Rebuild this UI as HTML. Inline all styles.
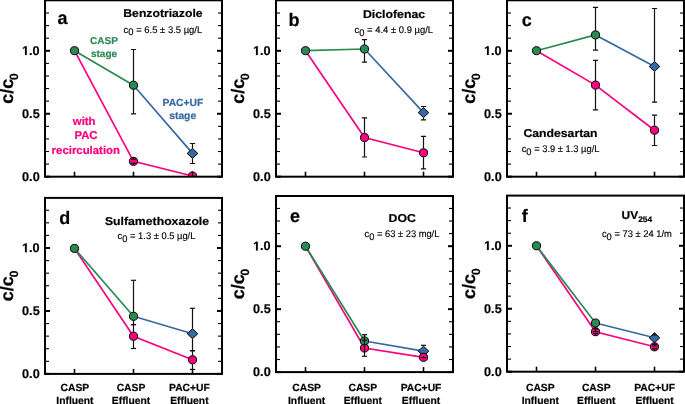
<!DOCTYPE html>
<html><head><meta charset="utf-8"><style>
html,body{margin:0;padding:0;background:#fff;overflow:hidden;}
svg{display:block;will-change:transform;}
text{font-family:"Liberation Sans",sans-serif;text-rendering:geometricPrecision;}
</style></head><body>
<svg width="685" height="404" viewBox="0 0 685 404">
<clipPath id="clipa"><rect x="45" y="0.3" width="177" height="176.4"/></clipPath>
<g stroke="#000"><line x1="45" y1="176.7" x2="50" y2="176.7" stroke-width="2"/><line x1="222" y1="176.7" x2="217" y2="176.7" stroke-width="2"/><line x1="45" y1="164.11" x2="49" y2="164.11" stroke-width="1.1"/><line x1="222" y1="164.11" x2="218" y2="164.11" stroke-width="1.1"/><line x1="45" y1="151.52" x2="49" y2="151.52" stroke-width="1.1"/><line x1="222" y1="151.52" x2="218" y2="151.52" stroke-width="1.1"/><line x1="45" y1="138.93" x2="49" y2="138.93" stroke-width="1.1"/><line x1="222" y1="138.93" x2="218" y2="138.93" stroke-width="1.1"/><line x1="45" y1="126.34" x2="49" y2="126.34" stroke-width="1.1"/><line x1="222" y1="126.34" x2="218" y2="126.34" stroke-width="1.1"/><line x1="45" y1="113.75" x2="50" y2="113.75" stroke-width="2"/><line x1="222" y1="113.75" x2="217" y2="113.75" stroke-width="2"/><line x1="45" y1="101.16" x2="49" y2="101.16" stroke-width="1.1"/><line x1="222" y1="101.16" x2="218" y2="101.16" stroke-width="1.1"/><line x1="45" y1="88.57" x2="49" y2="88.57" stroke-width="1.1"/><line x1="222" y1="88.57" x2="218" y2="88.57" stroke-width="1.1"/><line x1="45" y1="75.98" x2="49" y2="75.98" stroke-width="1.1"/><line x1="222" y1="75.98" x2="218" y2="75.98" stroke-width="1.1"/><line x1="45" y1="63.39" x2="49" y2="63.39" stroke-width="1.1"/><line x1="222" y1="63.39" x2="218" y2="63.39" stroke-width="1.1"/><line x1="45" y1="50.8" x2="50" y2="50.8" stroke-width="2"/><line x1="222" y1="50.8" x2="217" y2="50.8" stroke-width="2"/><line x1="45" y1="38.21" x2="49" y2="38.21" stroke-width="1.1"/><line x1="222" y1="38.21" x2="218" y2="38.21" stroke-width="1.1"/><line x1="45" y1="25.62" x2="49" y2="25.62" stroke-width="1.1"/><line x1="222" y1="25.62" x2="218" y2="25.62" stroke-width="1.1"/><line x1="45" y1="13.03" x2="49" y2="13.03" stroke-width="1.1"/><line x1="222" y1="13.03" x2="218" y2="13.03" stroke-width="1.1"/><line x1="74.5" y1="176.7" x2="74.5" y2="171.7" stroke-width="1.6"/><line x1="133.5" y1="176.7" x2="133.5" y2="171.7" stroke-width="1.6"/><line x1="192.5" y1="176.7" x2="192.5" y2="171.7" stroke-width="1.6"/></g>
<g font-size="12.7" font-weight="bold" stroke="#000" stroke-width="0.2"><text x="39.7" y="55.05" text-anchor="end">.0</text><path transform="translate(22.05,55.05) scale(0.006201,-0.006201)" d="M478 0V1170L140 959V1180L493 1409H759V0Z" fill="#000" stroke-width="32.25"/><text x="39.7" y="118" text-anchor="end">0.5</text><text x="39.7" y="180.95" text-anchor="end">0.0</text></g>
<text transform="translate(12.9,103.8) rotate(-90)" font-size="18" font-weight="bold" stroke="#000" stroke-width="0.2">c/c<tspan font-size="12" dx="-1.2" dy="4.8">0</tspan></text>
<g clip-path="url(#clipa)" fill="none" stroke-width="1.7"><polyline points="74.5,50.7 133.5,161.3 192.5,176" stroke="#fc0080"/><polyline points="74.5,50.7 133.5,85.2" stroke="#2b8a52"/><polyline points="133.5,85.2 192.5,153.4" stroke="#3569a2"/></g>
<g clip-path="url(#clipa)" stroke="#000" stroke-width="1"><path d="M192.5,148.4 L197.8,153.4 L192.5,158.4 L187.2,153.4Z" fill="#3569a2"/><circle cx="133.5" cy="161.3" r="4.05" fill="#fc0080"/><circle cx="192.5" cy="176" r="4.05" fill="#fc0080"/><circle cx="74.5" cy="50.7" r="4.05" fill="#2b8a52"/><circle cx="133.5" cy="85.2" r="4.05" fill="#2b8a52"/></g>
<g clip-path="url(#clipa)" stroke="#111" stroke-width="1.2"><line x1="133.5" y1="157.25" x2="133.5" y2="159.2"/><line x1="130.9" y1="159.2" x2="136.1" y2="159.2"/><line x1="133.5" y1="165.35" x2="133.5" y2="163.4"/><line x1="130.9" y1="163.4" x2="136.1" y2="163.4"/><line x1="133.5" y1="81.15" x2="133.5" y2="49.5"/><line x1="130.9" y1="49.5" x2="136.1" y2="49.5"/><line x1="133.5" y1="89.25" x2="133.5" y2="113.8"/><line x1="130.9" y1="113.8" x2="136.1" y2="113.8"/><line x1="192.5" y1="148.4" x2="192.5" y2="143.5"/><line x1="189.9" y1="143.5" x2="195.1" y2="143.5"/><line x1="192.5" y1="158.4" x2="192.5" y2="163.5"/><line x1="189.9" y1="163.5" x2="195.1" y2="163.5"/><line x1="192.5" y1="171.6" x2="192.5" y2="176.5"/></g>
<rect x="45" y="0.3" width="177" height="176.4" fill="none" stroke="#000" stroke-width="2"/>
<clipPath id="clipb"><rect x="276" y="0.3" width="177" height="176.4"/></clipPath>
<g stroke="#000"><line x1="276" y1="176.7" x2="281" y2="176.7" stroke-width="2"/><line x1="453" y1="176.7" x2="448" y2="176.7" stroke-width="2"/><line x1="276" y1="164.11" x2="280" y2="164.11" stroke-width="1.1"/><line x1="453" y1="164.11" x2="449" y2="164.11" stroke-width="1.1"/><line x1="276" y1="151.52" x2="280" y2="151.52" stroke-width="1.1"/><line x1="453" y1="151.52" x2="449" y2="151.52" stroke-width="1.1"/><line x1="276" y1="138.93" x2="280" y2="138.93" stroke-width="1.1"/><line x1="453" y1="138.93" x2="449" y2="138.93" stroke-width="1.1"/><line x1="276" y1="126.34" x2="280" y2="126.34" stroke-width="1.1"/><line x1="453" y1="126.34" x2="449" y2="126.34" stroke-width="1.1"/><line x1="276" y1="113.75" x2="281" y2="113.75" stroke-width="2"/><line x1="453" y1="113.75" x2="448" y2="113.75" stroke-width="2"/><line x1="276" y1="101.16" x2="280" y2="101.16" stroke-width="1.1"/><line x1="453" y1="101.16" x2="449" y2="101.16" stroke-width="1.1"/><line x1="276" y1="88.57" x2="280" y2="88.57" stroke-width="1.1"/><line x1="453" y1="88.57" x2="449" y2="88.57" stroke-width="1.1"/><line x1="276" y1="75.98" x2="280" y2="75.98" stroke-width="1.1"/><line x1="453" y1="75.98" x2="449" y2="75.98" stroke-width="1.1"/><line x1="276" y1="63.39" x2="280" y2="63.39" stroke-width="1.1"/><line x1="453" y1="63.39" x2="449" y2="63.39" stroke-width="1.1"/><line x1="276" y1="50.8" x2="281" y2="50.8" stroke-width="2"/><line x1="453" y1="50.8" x2="448" y2="50.8" stroke-width="2"/><line x1="276" y1="38.21" x2="280" y2="38.21" stroke-width="1.1"/><line x1="453" y1="38.21" x2="449" y2="38.21" stroke-width="1.1"/><line x1="276" y1="25.62" x2="280" y2="25.62" stroke-width="1.1"/><line x1="453" y1="25.62" x2="449" y2="25.62" stroke-width="1.1"/><line x1="276" y1="13.03" x2="280" y2="13.03" stroke-width="1.1"/><line x1="453" y1="13.03" x2="449" y2="13.03" stroke-width="1.1"/><line x1="305.5" y1="176.7" x2="305.5" y2="171.7" stroke-width="1.6"/><line x1="364.5" y1="176.7" x2="364.5" y2="171.7" stroke-width="1.6"/><line x1="423.5" y1="176.7" x2="423.5" y2="171.7" stroke-width="1.6"/></g>
<g font-size="12.7" font-weight="bold" stroke="#000" stroke-width="0.2"><text x="270.7" y="55.05" text-anchor="end">.0</text><path transform="translate(253.05,55.05) scale(0.006201,-0.006201)" d="M478 0V1170L140 959V1180L493 1409H759V0Z" fill="#000" stroke-width="32.25"/><text x="270.7" y="118" text-anchor="end">0.5</text><text x="270.7" y="180.95" text-anchor="end">0.0</text></g>
<text transform="translate(243.9,103.8) rotate(-90)" font-size="18" font-weight="bold" stroke="#000" stroke-width="0.2">c/c<tspan font-size="12" dx="-1.2" dy="4.8">0</tspan></text>
<g clip-path="url(#clipb)" fill="none" stroke-width="1.7"><polyline points="305.5,50.7 364.5,137.6 423.5,152.8" stroke="#fc0080"/><polyline points="305.5,50.7 364.5,49" stroke="#2b8a52"/><polyline points="364.5,49 423.5,112.6" stroke="#3569a2"/></g>
<g clip-path="url(#clipb)" stroke="#000" stroke-width="1"><path d="M423.5,107.6 L428.8,112.6 L423.5,117.6 L418.2,112.6Z" fill="#3569a2"/><circle cx="364.5" cy="137.6" r="4.05" fill="#fc0080"/><circle cx="423.5" cy="152.8" r="4.05" fill="#fc0080"/><circle cx="305.5" cy="50.7" r="4.05" fill="#2b8a52"/><circle cx="364.5" cy="49" r="4.05" fill="#2b8a52"/></g>
<g clip-path="url(#clipb)" stroke="#111" stroke-width="1.2"><line x1="364.5" y1="133.55" x2="364.5" y2="117.8"/><line x1="361.9" y1="117.8" x2="367.1" y2="117.8"/><line x1="364.5" y1="141.65" x2="364.5" y2="157"/><line x1="361.9" y1="157" x2="367.1" y2="157"/><line x1="423.5" y1="148.75" x2="423.5" y2="136.3"/><line x1="420.9" y1="136.3" x2="426.1" y2="136.3"/><line x1="423.5" y1="156.85" x2="423.5" y2="168.9"/><line x1="420.9" y1="168.9" x2="426.1" y2="168.9"/><line x1="364.5" y1="44.95" x2="364.5" y2="39.6"/><line x1="361.9" y1="39.6" x2="367.1" y2="39.6"/><line x1="364.5" y1="53.05" x2="364.5" y2="62.2"/><line x1="361.9" y1="62.2" x2="367.1" y2="62.2"/><line x1="423.5" y1="107.6" x2="423.5" y2="106.5"/><line x1="420.9" y1="106.5" x2="426.1" y2="106.5"/><line x1="423.5" y1="117.6" x2="423.5" y2="119.9"/><line x1="420.9" y1="119.9" x2="426.1" y2="119.9"/></g>
<rect x="276" y="0.3" width="177" height="176.4" fill="none" stroke="#000" stroke-width="2"/>
<clipPath id="clipc"><rect x="507" y="0.3" width="177" height="176.4"/></clipPath>
<g stroke="#000"><line x1="507" y1="176.7" x2="512" y2="176.7" stroke-width="2"/><line x1="684" y1="176.7" x2="679" y2="176.7" stroke-width="2"/><line x1="507" y1="164.11" x2="511" y2="164.11" stroke-width="1.1"/><line x1="684" y1="164.11" x2="680" y2="164.11" stroke-width="1.1"/><line x1="507" y1="151.52" x2="511" y2="151.52" stroke-width="1.1"/><line x1="684" y1="151.52" x2="680" y2="151.52" stroke-width="1.1"/><line x1="507" y1="138.93" x2="511" y2="138.93" stroke-width="1.1"/><line x1="684" y1="138.93" x2="680" y2="138.93" stroke-width="1.1"/><line x1="507" y1="126.34" x2="511" y2="126.34" stroke-width="1.1"/><line x1="684" y1="126.34" x2="680" y2="126.34" stroke-width="1.1"/><line x1="507" y1="113.75" x2="512" y2="113.75" stroke-width="2"/><line x1="684" y1="113.75" x2="679" y2="113.75" stroke-width="2"/><line x1="507" y1="101.16" x2="511" y2="101.16" stroke-width="1.1"/><line x1="684" y1="101.16" x2="680" y2="101.16" stroke-width="1.1"/><line x1="507" y1="88.57" x2="511" y2="88.57" stroke-width="1.1"/><line x1="684" y1="88.57" x2="680" y2="88.57" stroke-width="1.1"/><line x1="507" y1="75.98" x2="511" y2="75.98" stroke-width="1.1"/><line x1="684" y1="75.98" x2="680" y2="75.98" stroke-width="1.1"/><line x1="507" y1="63.39" x2="511" y2="63.39" stroke-width="1.1"/><line x1="684" y1="63.39" x2="680" y2="63.39" stroke-width="1.1"/><line x1="507" y1="50.8" x2="512" y2="50.8" stroke-width="2"/><line x1="684" y1="50.8" x2="679" y2="50.8" stroke-width="2"/><line x1="507" y1="38.21" x2="511" y2="38.21" stroke-width="1.1"/><line x1="684" y1="38.21" x2="680" y2="38.21" stroke-width="1.1"/><line x1="507" y1="25.62" x2="511" y2="25.62" stroke-width="1.1"/><line x1="684" y1="25.62" x2="680" y2="25.62" stroke-width="1.1"/><line x1="507" y1="13.03" x2="511" y2="13.03" stroke-width="1.1"/><line x1="684" y1="13.03" x2="680" y2="13.03" stroke-width="1.1"/><line x1="536.5" y1="176.7" x2="536.5" y2="171.7" stroke-width="1.6"/><line x1="595.5" y1="176.7" x2="595.5" y2="171.7" stroke-width="1.6"/><line x1="654.5" y1="176.7" x2="654.5" y2="171.7" stroke-width="1.6"/></g>
<g font-size="12.7" font-weight="bold" stroke="#000" stroke-width="0.2"><text x="501.7" y="55.05" text-anchor="end">.0</text><path transform="translate(484.05,55.05) scale(0.006201,-0.006201)" d="M478 0V1170L140 959V1180L493 1409H759V0Z" fill="#000" stroke-width="32.25"/><text x="501.7" y="118" text-anchor="end">0.5</text><text x="501.7" y="180.95" text-anchor="end">0.0</text></g>
<text transform="translate(474.9,103.8) rotate(-90)" font-size="18" font-weight="bold" stroke="#000" stroke-width="0.2">c/c<tspan font-size="12" dx="-1.2" dy="4.8">0</tspan></text>
<g clip-path="url(#clipc)" fill="none" stroke-width="1.7"><polyline points="536.5,50.7 595.5,85.1 654.5,130.2" stroke="#fc0080"/><polyline points="536.5,50.7 595.5,34.9" stroke="#2b8a52"/><polyline points="595.5,34.9 654.5,66.5" stroke="#3569a2"/></g>
<g clip-path="url(#clipc)" stroke="#000" stroke-width="1"><path d="M654.5,61.5 L659.8,66.5 L654.5,71.5 L649.2,66.5Z" fill="#3569a2"/><circle cx="595.5" cy="85.1" r="4.05" fill="#fc0080"/><circle cx="654.5" cy="130.2" r="4.05" fill="#fc0080"/><circle cx="536.5" cy="50.7" r="4.05" fill="#2b8a52"/><circle cx="595.5" cy="34.9" r="4.05" fill="#2b8a52"/></g>
<g clip-path="url(#clipc)" stroke="#111" stroke-width="1.2"><line x1="595.5" y1="81.05" x2="595.5" y2="60.4"/><line x1="592.9" y1="60.4" x2="598.1" y2="60.4"/><line x1="595.5" y1="89.15" x2="595.5" y2="109.8"/><line x1="592.9" y1="109.8" x2="598.1" y2="109.8"/><line x1="654.5" y1="126.15" x2="654.5" y2="115.2"/><line x1="651.9" y1="115.2" x2="657.1" y2="115.2"/><line x1="654.5" y1="134.25" x2="654.5" y2="145.5"/><line x1="651.9" y1="145.5" x2="657.1" y2="145.5"/><line x1="595.5" y1="30.85" x2="595.5" y2="7.4"/><line x1="592.9" y1="7.4" x2="598.1" y2="7.4"/><line x1="595.5" y1="38.95" x2="595.5" y2="50.1"/><line x1="592.9" y1="50.1" x2="598.1" y2="50.1"/><line x1="654.5" y1="61.5" x2="654.5" y2="8.5"/><line x1="651.9" y1="8.5" x2="657.1" y2="8.5"/><line x1="654.5" y1="71.5" x2="654.5" y2="102.2"/><line x1="651.9" y1="102.2" x2="657.1" y2="102.2"/></g>
<rect x="507" y="0.3" width="177" height="176.4" fill="none" stroke="#000" stroke-width="2"/>
<clipPath id="clipd"><rect x="45" y="197.9" width="177" height="176"/></clipPath>
<g stroke="#000"><line x1="45" y1="373.9" x2="50" y2="373.9" stroke-width="2"/><line x1="222" y1="373.9" x2="217" y2="373.9" stroke-width="2"/><line x1="45" y1="361.31" x2="49" y2="361.31" stroke-width="1.1"/><line x1="222" y1="361.31" x2="218" y2="361.31" stroke-width="1.1"/><line x1="45" y1="348.72" x2="49" y2="348.72" stroke-width="1.1"/><line x1="222" y1="348.72" x2="218" y2="348.72" stroke-width="1.1"/><line x1="45" y1="336.13" x2="49" y2="336.13" stroke-width="1.1"/><line x1="222" y1="336.13" x2="218" y2="336.13" stroke-width="1.1"/><line x1="45" y1="323.54" x2="49" y2="323.54" stroke-width="1.1"/><line x1="222" y1="323.54" x2="218" y2="323.54" stroke-width="1.1"/><line x1="45" y1="310.95" x2="50" y2="310.95" stroke-width="2"/><line x1="222" y1="310.95" x2="217" y2="310.95" stroke-width="2"/><line x1="45" y1="298.36" x2="49" y2="298.36" stroke-width="1.1"/><line x1="222" y1="298.36" x2="218" y2="298.36" stroke-width="1.1"/><line x1="45" y1="285.77" x2="49" y2="285.77" stroke-width="1.1"/><line x1="222" y1="285.77" x2="218" y2="285.77" stroke-width="1.1"/><line x1="45" y1="273.18" x2="49" y2="273.18" stroke-width="1.1"/><line x1="222" y1="273.18" x2="218" y2="273.18" stroke-width="1.1"/><line x1="45" y1="260.59" x2="49" y2="260.59" stroke-width="1.1"/><line x1="222" y1="260.59" x2="218" y2="260.59" stroke-width="1.1"/><line x1="45" y1="248" x2="50" y2="248" stroke-width="2"/><line x1="222" y1="248" x2="217" y2="248" stroke-width="2"/><line x1="45" y1="235.41" x2="49" y2="235.41" stroke-width="1.1"/><line x1="222" y1="235.41" x2="218" y2="235.41" stroke-width="1.1"/><line x1="45" y1="222.82" x2="49" y2="222.82" stroke-width="1.1"/><line x1="222" y1="222.82" x2="218" y2="222.82" stroke-width="1.1"/><line x1="45" y1="210.23" x2="49" y2="210.23" stroke-width="1.1"/><line x1="222" y1="210.23" x2="218" y2="210.23" stroke-width="1.1"/><line x1="74.5" y1="373.9" x2="74.5" y2="368.9" stroke-width="1.6"/><line x1="133.5" y1="373.9" x2="133.5" y2="368.9" stroke-width="1.6"/><line x1="192.5" y1="373.9" x2="192.5" y2="368.9" stroke-width="1.6"/></g>
<g font-size="12.7" font-weight="bold" stroke="#000" stroke-width="0.2"><text x="39.7" y="252.25" text-anchor="end">.0</text><path transform="translate(22.05,252.25) scale(0.006201,-0.006201)" d="M478 0V1170L140 959V1180L493 1409H759V0Z" fill="#000" stroke-width="32.25"/><text x="39.7" y="315.2" text-anchor="end">0.5</text><text x="39.7" y="378.15" text-anchor="end">0.0</text></g>
<text transform="translate(12.9,301.2) rotate(-90)" font-size="18" font-weight="bold" stroke="#000" stroke-width="0.2">c/c<tspan font-size="12" dx="-1.2" dy="4.8">0</tspan></text>
<g clip-path="url(#clipd)" fill="none" stroke-width="1.7"><polyline points="74.5,248.4 133.5,336.2 192.5,359.8" stroke="#fc0080"/><polyline points="74.5,248.4 133.5,316.3" stroke="#2b8a52"/><polyline points="133.5,316.3 192.5,333.7" stroke="#3569a2"/></g>
<g clip-path="url(#clipd)" stroke="#000" stroke-width="1"><path d="M192.5,328.7 L197.8,333.7 L192.5,338.7 L187.2,333.7Z" fill="#3569a2"/><circle cx="133.5" cy="336.2" r="4.05" fill="#fc0080"/><circle cx="192.5" cy="359.8" r="4.05" fill="#fc0080"/><circle cx="74.5" cy="248.4" r="4.05" fill="#2b8a52"/><circle cx="133.5" cy="316.3" r="4.05" fill="#2b8a52"/></g>
<g clip-path="url(#clipd)" stroke="#111" stroke-width="1.2"><line x1="133.5" y1="332.15" x2="133.5" y2="324.6"/><line x1="130.9" y1="324.6" x2="136.1" y2="324.6"/><line x1="133.5" y1="340.25" x2="133.5" y2="348.5"/><line x1="130.9" y1="348.5" x2="136.1" y2="348.5"/><line x1="192.5" y1="355.75" x2="192.5" y2="350.7"/><line x1="189.9" y1="350.7" x2="195.1" y2="350.7"/><line x1="192.5" y1="363.85" x2="192.5" y2="369.4"/><line x1="189.9" y1="369.4" x2="195.1" y2="369.4"/><line x1="133.5" y1="312.25" x2="133.5" y2="280.3"/><line x1="130.9" y1="280.3" x2="136.1" y2="280.3"/><line x1="133.5" y1="320.35" x2="133.5" y2="324.6"/><line x1="130.9" y1="324.6" x2="136.1" y2="324.6"/><line x1="192.5" y1="328.7" x2="192.5" y2="308.3"/><line x1="189.9" y1="308.3" x2="195.1" y2="308.3"/><line x1="192.5" y1="338.7" x2="192.5" y2="350.7"/><line x1="189.9" y1="350.7" x2="195.1" y2="350.7"/></g>
<rect x="45" y="197.9" width="177" height="176" fill="none" stroke="#000" stroke-width="2"/>
<clipPath id="clipe"><rect x="276" y="196" width="177" height="176.1"/></clipPath>
<g stroke="#000"><line x1="276" y1="372.1" x2="281" y2="372.1" stroke-width="2"/><line x1="453" y1="372.1" x2="448" y2="372.1" stroke-width="2"/><line x1="276" y1="359.51" x2="280" y2="359.51" stroke-width="1.1"/><line x1="453" y1="359.51" x2="449" y2="359.51" stroke-width="1.1"/><line x1="276" y1="346.92" x2="280" y2="346.92" stroke-width="1.1"/><line x1="453" y1="346.92" x2="449" y2="346.92" stroke-width="1.1"/><line x1="276" y1="334.33" x2="280" y2="334.33" stroke-width="1.1"/><line x1="453" y1="334.33" x2="449" y2="334.33" stroke-width="1.1"/><line x1="276" y1="321.74" x2="280" y2="321.74" stroke-width="1.1"/><line x1="453" y1="321.74" x2="449" y2="321.74" stroke-width="1.1"/><line x1="276" y1="309.15" x2="281" y2="309.15" stroke-width="2"/><line x1="453" y1="309.15" x2="448" y2="309.15" stroke-width="2"/><line x1="276" y1="296.56" x2="280" y2="296.56" stroke-width="1.1"/><line x1="453" y1="296.56" x2="449" y2="296.56" stroke-width="1.1"/><line x1="276" y1="283.97" x2="280" y2="283.97" stroke-width="1.1"/><line x1="453" y1="283.97" x2="449" y2="283.97" stroke-width="1.1"/><line x1="276" y1="271.38" x2="280" y2="271.38" stroke-width="1.1"/><line x1="453" y1="271.38" x2="449" y2="271.38" stroke-width="1.1"/><line x1="276" y1="258.79" x2="280" y2="258.79" stroke-width="1.1"/><line x1="453" y1="258.79" x2="449" y2="258.79" stroke-width="1.1"/><line x1="276" y1="246.2" x2="281" y2="246.2" stroke-width="2"/><line x1="453" y1="246.2" x2="448" y2="246.2" stroke-width="2"/><line x1="276" y1="233.61" x2="280" y2="233.61" stroke-width="1.1"/><line x1="453" y1="233.61" x2="449" y2="233.61" stroke-width="1.1"/><line x1="276" y1="221.02" x2="280" y2="221.02" stroke-width="1.1"/><line x1="453" y1="221.02" x2="449" y2="221.02" stroke-width="1.1"/><line x1="276" y1="208.43" x2="280" y2="208.43" stroke-width="1.1"/><line x1="453" y1="208.43" x2="449" y2="208.43" stroke-width="1.1"/><line x1="305.5" y1="372.1" x2="305.5" y2="367.1" stroke-width="1.6"/><line x1="364.5" y1="372.1" x2="364.5" y2="367.1" stroke-width="1.6"/><line x1="423.5" y1="372.1" x2="423.5" y2="367.1" stroke-width="1.6"/></g>
<g font-size="12.7" font-weight="bold" stroke="#000" stroke-width="0.2"><text x="270.7" y="250.45" text-anchor="end">.0</text><path transform="translate(253.05,250.45) scale(0.006201,-0.006201)" d="M478 0V1170L140 959V1180L493 1409H759V0Z" fill="#000" stroke-width="32.25"/><text x="270.7" y="313.4" text-anchor="end">0.5</text><text x="270.7" y="376.35" text-anchor="end">0.0</text></g>
<text transform="translate(243.9,299.35) rotate(-90)" font-size="18" font-weight="bold" stroke="#000" stroke-width="0.2">c/c<tspan font-size="12" dx="-1.2" dy="4.8">0</tspan></text>
<g clip-path="url(#clipe)" fill="none" stroke-width="1.7"><polyline points="305.5,246.2 364.5,348 423.5,357.3" stroke="#fc0080"/><polyline points="305.5,246.2 364.5,341" stroke="#2b8a52"/><polyline points="364.5,341 423.5,351.2" stroke="#3569a2"/></g>
<g clip-path="url(#clipe)" stroke="#000" stroke-width="1"><path d="M423.5,346.2 L428.8,351.2 L423.5,356.2 L418.2,351.2Z" fill="#3569a2"/><circle cx="364.5" cy="348" r="4.05" fill="#fc0080"/><circle cx="423.5" cy="357.3" r="4.05" fill="#fc0080"/><circle cx="305.5" cy="246.2" r="4.05" fill="#2b8a52"/><circle cx="364.5" cy="341" r="4.05" fill="#2b8a52"/></g>
<g clip-path="url(#clipe)" stroke="#111" stroke-width="1.2"><line x1="364.5" y1="336.95" x2="364.5" y2="334.7"/><line x1="361.9" y1="334.7" x2="367.1" y2="334.7"/><line x1="423.5" y1="346.2" x2="423.5" y2="345.3"/><line x1="420.9" y1="345.3" x2="426.1" y2="345.3"/><line x1="423.5" y1="356.2" x2="423.5" y2="357.6"/><line x1="420.9" y1="357.6" x2="426.1" y2="357.6"/><line x1="364.5" y1="334.7" x2="364.5" y2="356.3"/><line x1="361.9" y1="340.2" x2="367.1" y2="340.2"/><line x1="361.9" y1="356.3" x2="367.1" y2="356.3"/></g>
<rect x="276" y="196" width="177" height="176.1" fill="none" stroke="#000" stroke-width="2"/>
<clipPath id="clipf"><rect x="507" y="195.6" width="177" height="176.1"/></clipPath>
<g stroke="#000"><line x1="507" y1="371.7" x2="512" y2="371.7" stroke-width="2"/><line x1="684" y1="371.7" x2="679" y2="371.7" stroke-width="2"/><line x1="507" y1="359.11" x2="511" y2="359.11" stroke-width="1.1"/><line x1="684" y1="359.11" x2="680" y2="359.11" stroke-width="1.1"/><line x1="507" y1="346.52" x2="511" y2="346.52" stroke-width="1.1"/><line x1="684" y1="346.52" x2="680" y2="346.52" stroke-width="1.1"/><line x1="507" y1="333.93" x2="511" y2="333.93" stroke-width="1.1"/><line x1="684" y1="333.93" x2="680" y2="333.93" stroke-width="1.1"/><line x1="507" y1="321.34" x2="511" y2="321.34" stroke-width="1.1"/><line x1="684" y1="321.34" x2="680" y2="321.34" stroke-width="1.1"/><line x1="507" y1="308.75" x2="512" y2="308.75" stroke-width="2"/><line x1="684" y1="308.75" x2="679" y2="308.75" stroke-width="2"/><line x1="507" y1="296.16" x2="511" y2="296.16" stroke-width="1.1"/><line x1="684" y1="296.16" x2="680" y2="296.16" stroke-width="1.1"/><line x1="507" y1="283.57" x2="511" y2="283.57" stroke-width="1.1"/><line x1="684" y1="283.57" x2="680" y2="283.57" stroke-width="1.1"/><line x1="507" y1="270.98" x2="511" y2="270.98" stroke-width="1.1"/><line x1="684" y1="270.98" x2="680" y2="270.98" stroke-width="1.1"/><line x1="507" y1="258.39" x2="511" y2="258.39" stroke-width="1.1"/><line x1="684" y1="258.39" x2="680" y2="258.39" stroke-width="1.1"/><line x1="507" y1="245.8" x2="512" y2="245.8" stroke-width="2"/><line x1="684" y1="245.8" x2="679" y2="245.8" stroke-width="2"/><line x1="507" y1="233.21" x2="511" y2="233.21" stroke-width="1.1"/><line x1="684" y1="233.21" x2="680" y2="233.21" stroke-width="1.1"/><line x1="507" y1="220.62" x2="511" y2="220.62" stroke-width="1.1"/><line x1="684" y1="220.62" x2="680" y2="220.62" stroke-width="1.1"/><line x1="507" y1="208.03" x2="511" y2="208.03" stroke-width="1.1"/><line x1="684" y1="208.03" x2="680" y2="208.03" stroke-width="1.1"/><line x1="536.5" y1="371.7" x2="536.5" y2="366.7" stroke-width="1.6"/><line x1="595.5" y1="371.7" x2="595.5" y2="366.7" stroke-width="1.6"/><line x1="654.5" y1="371.7" x2="654.5" y2="366.7" stroke-width="1.6"/></g>
<g font-size="12.7" font-weight="bold" stroke="#000" stroke-width="0.2"><text x="501.7" y="250.05" text-anchor="end">.0</text><path transform="translate(484.05,250.05) scale(0.006201,-0.006201)" d="M478 0V1170L140 959V1180L493 1409H759V0Z" fill="#000" stroke-width="32.25"/><text x="501.7" y="313" text-anchor="end">0.5</text><text x="501.7" y="375.95" text-anchor="end">0.0</text></g>
<text transform="translate(474.9,298.95) rotate(-90)" font-size="18" font-weight="bold" stroke="#000" stroke-width="0.2">c/c<tspan font-size="12" dx="-1.2" dy="4.8">0</tspan></text>
<g clip-path="url(#clipf)" fill="none" stroke-width="1.7"><polyline points="536.5,245.8 595.5,331.7 654.5,346.8" stroke="#fc0080"/><polyline points="536.5,245.8 595.5,323" stroke="#2b8a52"/><polyline points="595.5,323 654.5,337.8" stroke="#3569a2"/></g>
<g clip-path="url(#clipf)" stroke="#000" stroke-width="1"><path d="M654.5,332.8 L659.8,337.8 L654.5,342.8 L649.2,337.8Z" fill="#3569a2"/><circle cx="595.5" cy="331.7" r="4.05" fill="#fc0080"/><circle cx="654.5" cy="346.8" r="4.05" fill="#fc0080"/><circle cx="536.5" cy="245.8" r="4.05" fill="#2b8a52"/><circle cx="595.5" cy="323" r="4.05" fill="#2b8a52"/></g>
<g clip-path="url(#clipf)" stroke="#111" stroke-width="1.2"><line x1="595.5" y1="327.65" x2="595.5" y2="328.9"/><line x1="592.9" y1="328.9" x2="598.1" y2="328.9"/><line x1="595.5" y1="335.75" x2="595.5" y2="333.5"/><line x1="592.9" y1="333.5" x2="598.1" y2="333.5"/><line x1="654.5" y1="342.75" x2="654.5" y2="344.4"/><line x1="651.9" y1="344.4" x2="657.1" y2="344.4"/><line x1="654.5" y1="350.85" x2="654.5" y2="348.6"/><line x1="651.9" y1="348.6" x2="657.1" y2="348.6"/><line x1="654.5" y1="332.8" x2="654.5" y2="335"/><line x1="651.9" y1="335" x2="657.1" y2="335"/><line x1="654.5" y1="342.8" x2="654.5" y2="346"/><line x1="651.9" y1="346" x2="657.1" y2="346"/><line x1="595.5" y1="327.3" x2="595.5" y2="331.6"/><line x1="592.9" y1="331.6" x2="598.1" y2="331.6"/></g>
<rect x="507" y="195.6" width="177" height="176.1" fill="none" stroke="#000" stroke-width="2"/>
<text x="57.5" y="24.4" font-size="18" font-weight="bold" stroke="#000" stroke-width="0.2">a</text>
<text x="288.5" y="25.5" font-size="18" font-weight="bold" stroke="#000" stroke-width="0.2">b</text>
<text x="521.8" y="25.5" font-size="18" font-weight="bold" stroke="#000" stroke-width="0.2">c</text>
<text x="59.3" y="224" font-size="18" font-weight="bold" stroke="#000" stroke-width="0.2">d</text>
<text x="290" y="221.5" font-size="18" font-weight="bold" stroke="#000" stroke-width="0.2">e</text>
<text x="521.7" y="221.9" font-size="18" font-weight="bold" stroke="#000" stroke-width="0.2">f</text>
<text x="123.3" y="17.4" font-size="11.4" font-weight="bold" stroke="#000" stroke-width="0.2" textLength="79.3" lengthAdjust="spacingAndGlyphs">Benzotriazole</text>
<text x="362.9" y="17.9" font-size="11.4" font-weight="bold" stroke="#000" stroke-width="0.2" textLength="62.2" lengthAdjust="spacingAndGlyphs">Diclofenac</text>
<text x="523.5" y="136.6" font-size="11.4" font-weight="bold" stroke="#000" stroke-width="0.2" textLength="74" lengthAdjust="spacingAndGlyphs">Candesartan</text>
<text x="104.9" y="224.5" font-size="11.4" font-weight="bold" stroke="#000" stroke-width="0.2" textLength="104.2" lengthAdjust="spacingAndGlyphs">Sulfamethoxazole</text>
<text x="388.6" y="221.7" font-size="11.4" font-weight="bold" stroke="#000" stroke-width="0.2" textLength="27.2" lengthAdjust="spacingAndGlyphs">DOC</text>
<text x="621.6" y="218.8" font-size="11.4" font-weight="bold" stroke="#000" stroke-width="0.2" textLength="30.6" lengthAdjust="spacingAndGlyphs">UV<tspan font-size="8" dy="3.2">254</tspan></text>
<text x="123.6" y="32.5" font-size="9.6" stroke="#000" stroke-width="0.15" textLength="78.6" lengthAdjust="spacingAndGlyphs">c<tspan font-size="9.6" dy="2.8">0</tspan><tspan dy="-2.8"> = 6.5 ± 3.5 µg/L</tspan></text>
<text x="354.5" y="33" font-size="9.6" stroke="#000" stroke-width="0.15" textLength="78.6" lengthAdjust="spacingAndGlyphs">c<tspan font-size="9.6" dy="2.8">0</tspan><tspan dy="-2.8"> = 4.4 ± 0.9 µg/L</tspan></text>
<text x="521.7" y="152.4" font-size="9.6" stroke="#000" stroke-width="0.15" textLength="77.8" lengthAdjust="spacingAndGlyphs">c<tspan font-size="9.6" dy="2.8">0</tspan><tspan dy="-2.8"> = 3.9 ± 1.3 µg/L</tspan></text>
<text x="117.6" y="239.4" font-size="9.6" stroke="#000" stroke-width="0.15" textLength="77.8" lengthAdjust="spacingAndGlyphs">c<tspan font-size="9.6" dy="2.8">0</tspan><tspan dy="-2.8"> = 1.3 ± 0.5 µg/L</tspan></text>
<text x="364.6" y="237" font-size="9.6" stroke="#000" stroke-width="0.15" textLength="74.8" lengthAdjust="spacingAndGlyphs">c<tspan font-size="9.6" dy="2.8">0</tspan><tspan dy="-2.8"> = 63 ± 23 mg/L</tspan></text>
<text x="601.9" y="237" font-size="9.6" stroke="#000" stroke-width="0.15" textLength="69.9" lengthAdjust="spacingAndGlyphs">c<tspan font-size="9.6" dy="2.8">0</tspan><tspan dy="-2.8"> = 73 ± 24 1/m</tspan></text>
<g font-size="10" font-weight="bold" text-anchor="middle" fill="#2b8a52" stroke="#2b8a52" stroke-width="0.2"><text x="104" y="44.4">CASP</text><text x="104" y="57.0">stage</text></g>
<g font-size="10.3" font-weight="bold" text-anchor="middle" fill="#3569a2" stroke="#3569a2" stroke-width="0.2"><text x="182.9" y="105.8">PAC+UF</text><text x="182.7" y="118.5">stage</text></g>
<g font-size="11.4" font-weight="bold" text-anchor="middle" fill="#fc0080" stroke="#fc0080" stroke-width="0.2"><text x="84.2" y="124.9">with</text><text x="86" y="138.9">PAC</text><text x="85.8" y="153.6">recirculation</text></g>
<g font-size="10.3" font-weight="bold" text-anchor="middle" stroke="#000" stroke-width="0.2"><text x="74.9" y="390.9">CASP</text><text x="74.9" y="403.8">Influent</text><text x="131" y="390.9">CASP</text><text x="131" y="403.8">Effluent</text><text x="189.4" y="390.9">PAC+UF</text><text x="189.4" y="403.8">Effluent</text><text x="306.6" y="390.9">CASP</text><text x="306.6" y="403.8">Influent</text><text x="362.8" y="390.9">CASP</text><text x="362.8" y="403.8">Effluent</text><text x="421" y="390.9">PAC+UF</text><text x="421" y="403.8">Effluent</text><text x="540.3" y="390.9">CASP</text><text x="540.3" y="403.8">Influent</text><text x="596.2" y="390.9">CASP</text><text x="596.2" y="403.8">Effluent</text><text x="654.6" y="390.9">PAC+UF</text><text x="654.6" y="403.8">Effluent</text></g>
</svg>
</body></html>
